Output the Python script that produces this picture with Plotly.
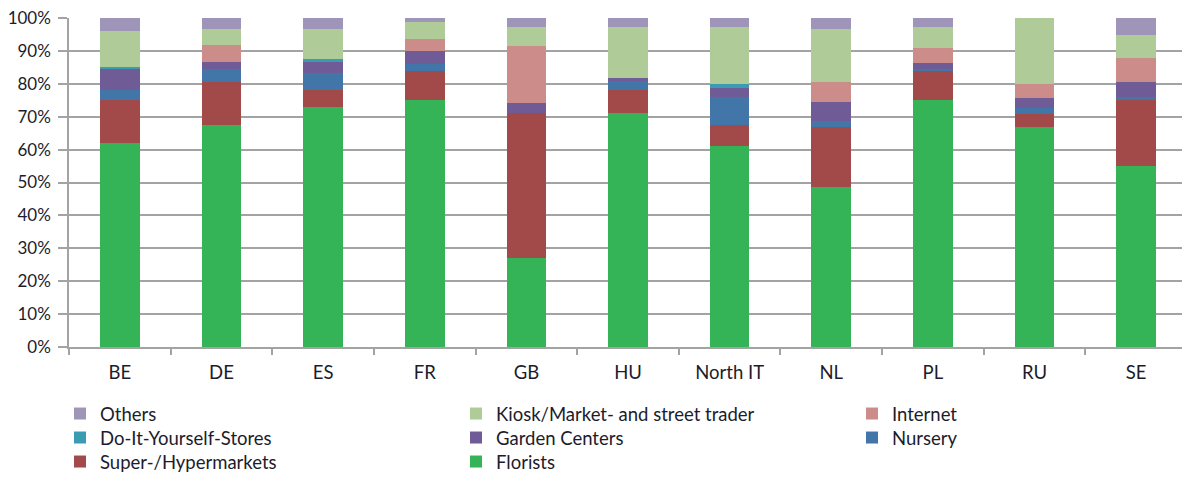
import plotly.graph_objects as go

categories = ["BE", "DE", "ES", "FR", "GB", "HU", "North IT", "NL", "PL", "RU", "SE"]

florists = [62, 67.5, 73, 75, 27, 71, 61, 48.6, 75, 67, 55]
supermarkets = [13, 13, 5, 9, 44, 7, 6.5, 18.3, 9, 3.7, 20.2]
nursery = [3, 4, 5.3, 2, 0, 2.8, 8.5, 1.8, 0.5, 2, 0.8]
garden_centers = [6.5, 2, 3.5, 4, 3.3, 1, 2.7, 5.7, 1.8, 3.1, 4.5]
diy_stores = [0.5, 0, 0.6, 0, 0, 0, 1.1, 0, 0, 0, 0]
internet = [0, 5.3, 0, 3.6, 17.3, 0, 0, 6.1, 4.7, 4, 7.3]
kiosk = [11, 5, 9.4, 5.2, 5.8, 15.6, 17.6, 16.3, 6.4, 20.2, 7.1]
others = [4, 3.2, 3.2, 1.2, 2.6, 2.6, 2.6, 3.2, 2.6, 0, 5.1]

y_ticks = [0, 10, 20, 30, 40, 50, 60, 70, 80, 90, 100]

# The page body has an 8px margin, so the figure is drawn 8px smaller
OFF = 8
W, H = 1190 - OFF, 482 - OFF

# legend slot (column, row) for each series
series = [
    ("Florists", florists, "#35b457", (1, 2)),
    ("Super-/Hypermarkets", supermarkets, "#a24a4a", (0, 2)),
    ("Nursery", nursery, "#4276a9", (2, 1)),
    ("Garden Centers", garden_centers, "#6f5b96", (1, 1)),
    ("Do-It-Yourself-Stores", diy_stores, "#3a9cb2", (0, 1)),
    ("Internet", internet, "#cc8c8a", (2, 0)),
    ("Kiosk/Market- and street trader", kiosk, "#afcb97", (1, 0)),
    ("Others", others, "#9f95b9", (0, 0)),
]

col_x = [60, 456, 852]        # page px of legend box left
row_center = [413, 437, 461]  # page px of item centre

font_family = "Lato, 'Open Sans', sans-serif"
text_color = "#1c1c2c"
legend_font = 18.5

fig = go.Figure()
layout_legends = {}
for i, (name, vals, color, (c, r)) in enumerate(series):
    key = "legend" if i == 0 else f"legend{i + 1}"
    fig.add_trace(go.Bar(
        x=categories, y=vals, name=name, legend=key,
        marker=dict(color=color, line=dict(width=0)),
    ))
    top = row_center[r] - OFF - 18
    layout_legends[key] = dict(
        orientation="v",
        xref="container", yref="container",
        x=(col_x[c] - OFF) / W, xanchor="left",
        y=1 - top / H, yanchor="top",
        font=dict(family=font_family, size=legend_font, color=text_color),
        itemwidth=30,
        bgcolor="rgba(0,0,0,0)",
    )

fig.update_layout(
    barmode="stack",
    bargap=0.61,
    width=W, height=H,
    margin=dict(l=69 - OFF, r=3, t=17.5 - OFF, b=H - (347 - OFF), autoexpand=False),
    plot_bgcolor="white",
    paper_bgcolor="white",
    font=dict(family=font_family, size=17, color=text_color),
    showlegend=True,
    **layout_legends,
)

fig.update_yaxes(
    range=[0, 100],
    tickvals=y_ticks,
    ticktext=[f"{v}%" for v in y_ticks],
    showgrid=True, gridcolor="#a3a3a3", gridwidth=1.5,
    showline=True, linecolor="#a3a3a3", linewidth=1.5,
    ticks="outside", ticklen=9, tickcolor="#a3a3a3", tickwidth=1.5,
    zeroline=False,
    ticklabeloverflow="allow",
    ticklabelstandoff=4,
    tickfont=dict(size=17),
)
fig.update_xaxes(
    showline=True, linecolor="#a3a3a3", linewidth=1.5,
    ticks="outside", tickson="boundaries", ticklen=6, tickcolor="#a3a3a3", tickwidth=1.5,
    showgrid=False,
    ticklabelstandoff=8,
    tickfont=dict(size=18.5),
)

fig.write_html("out.html")
